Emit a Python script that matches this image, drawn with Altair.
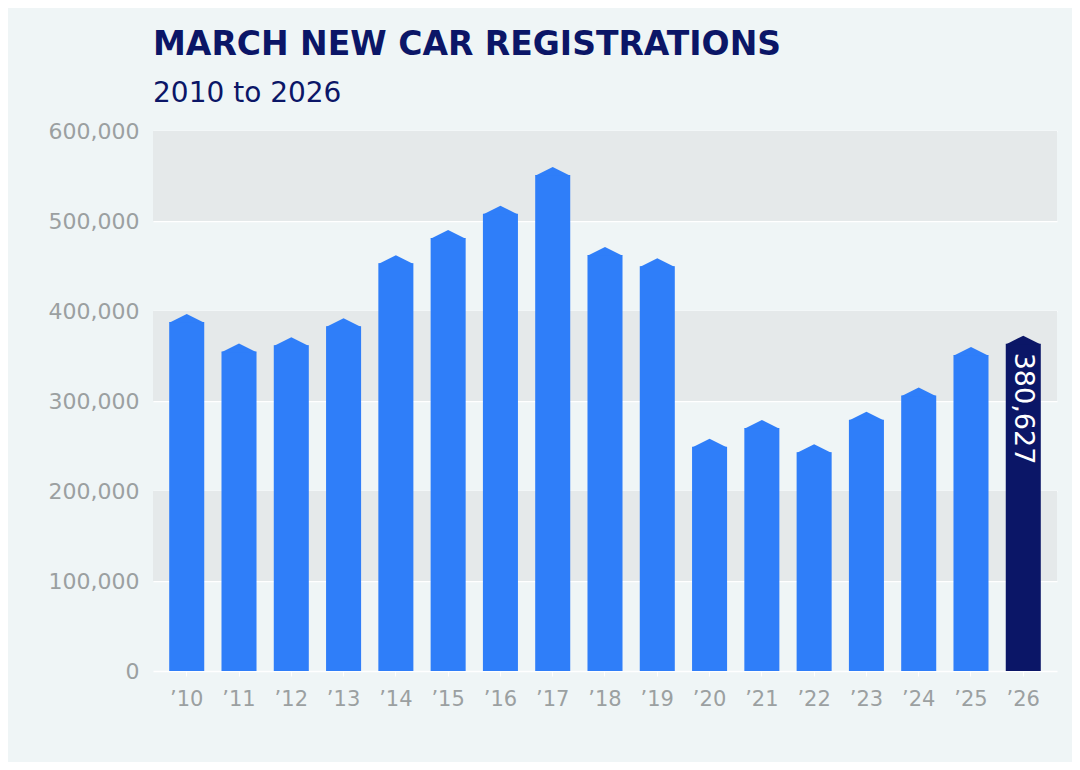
import altair as alt
import pandas as pd

# March new car registrations
years = ["’10", "’11", "’12", "’13", "’14", "’15", "’16", "’17", "’18",
         "’19", "’20", "’21", "’22", "’23", "’24", "’25", "’26"]
registrations = [396700, 364000, 370800, 391900, 462000, 490000, 517000, 560000,
                 471000, 458500, 258000, 279000, 252000, 288000, 315000, 360000, 372600]
latest_label = "380,627"

# alternating grey background bands
band_starts = [100000, 300000, 500000]
band_ends = [200000, 400000, 600000]

NAVY = "#0b1667"
BLUE = "#2f7ef9"
GREY_TXT = "#9ba0a1"
W, H = 904, 540
Y_MAX = 600000
ROOF = 8 * Y_MAX / H  # height of the pointed top, in data units

df = pd.DataFrame({"year": years, "value": registrations})
df["latest"] = df["year"] == years[-1]
df["label"] = [latest_label if y == years[-1] else "" for y in years]
bands = pd.DataFrame({"y0": band_starts, "y1": band_ends})

yscale = alt.Scale(domain=[0, Y_MAX], nice=False)

x = alt.X("year:N", sort=years, title=None,
          scale=alt.Scale(paddingInner=0.33, paddingOuter=0.31),
          axis=alt.Axis(labelAngle=0, labelFont="DejaVu Sans", labelFontSize=21,
                        labelColor=GREY_TXT, labelPadding=12, domain=False,
                        ticks=True, tickColor="#ffffff", tickSize=5, grid=False))
y = alt.Y("shoulder:Q", title=None, scale=yscale,
          axis=alt.Axis(values=[0, 100000, 200000, 300000, 400000, 500000, 600000],
                        format=",d", labelFont="DejaVu Sans", labelFontSize=22,
                        labelColor=GREY_TXT, labelPadding=14, domain=False,
                        ticks=False, grid=True, gridColor="#ffffff", gridWidth=1.5))

color = alt.condition(alt.datum.latest, alt.value(NAVY), alt.value(BLUE))

band_layer = alt.Chart(bands).mark_rect(color="#e5e9ea").encode(
    x=alt.value(0), x2=alt.value(W),
    y=alt.Y("y0:Q", scale=yscale),
    y2="y1:Q",
)

base = alt.Chart(df)
bars = base.transform_calculate(
    shoulder=f"datum.value - {ROOF}"
).mark_bar().encode(x=x, y=y, color=color)
roofs = base.mark_point(shape="M-1,0.5L0,0L1,0.5Z", size=1225, filled=True,
                        opacity=1, strokeWidth=0).encode(
    x=alt.X("year:N", sort=years), y=alt.Y("value:Q", scale=yscale), color=color)
label = base.transform_filter(alt.datum.latest).mark_text(
    angle=90, align="left", baseline="middle", dx=17, color="white",
    font="DejaVu Sans", fontSize=27).encode(
    x=alt.X("year:N", sort=years), y=alt.Y("value:Q", scale=yscale), text="label:N")

chart = alt.layer(band_layer, bars, roofs, label).properties(
    width=W, height=H,
    autosize=alt.AutoSizeParams(type="none"),
    padding={"left": 145, "top": 123, "right": 15, "bottom": 91},
    title=alt.TitleParams(
        text="MARCH NEW CAR REGISTRATIONS",
        subtitle="2010 to 2026",
        anchor="start", frame="group", offset=12,
        font="DejaVu Sans", fontSize=33, fontWeight=900, color=NAVY,
        subtitleFont="DejaVu Sans", subtitleFontSize=28, subtitleColor=NAVY,
        subtitleFontWeight="normal", subtitlePadding=18,
    ),
).configure(background="#eff5f6").configure_view(stroke=None)

chart.save("out.html", embed_options={"renderer": "svg", "actions": False})
